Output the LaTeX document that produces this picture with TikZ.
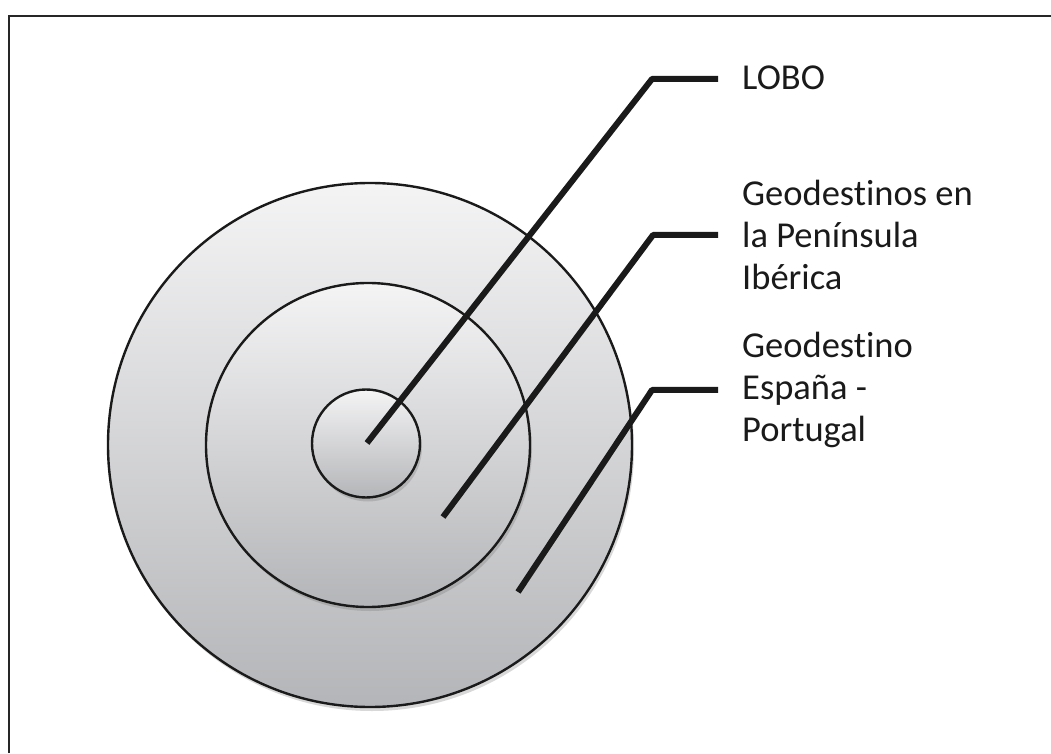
\documentclass[tikz,border=0pt]{standalone}
\usepackage{fontspec}
\setmainfont{Carlito}[RawFeature=-liga]
\usetikzlibrary{shadows}
\definecolor{ink}{HTML}{1A1A1A}
\definecolor{topgray}{HTML}{F4F4F5}
\definecolor{botgray}{HTML}{B4B5B8}
\tikzset{
  ring/.style={draw=ink, line width=2.4pt, top color=topgray, bottom color=botgray,
    drop shadow={shadow xshift=2pt, shadow yshift=-4pt, opacity=0.25, fill=black!60}},
  leader/.style={draw=ink, line width=6pt, line join=round, line cap=butt},
  lbl/.style={anchor=west, inner sep=0pt, align=left, text=ink,
    font=\fontsize{36.5}{42}\selectfont},
}
\begin{document}
\begin{tikzpicture}[x=1pt,y=1pt]
\useasboundingbox (0,0) rectangle (1051,753);
\fill[white] (0,0) rectangle (1051,753);
\draw[line width=2pt, draw=black!85] (9,0) -- (9,737) -- (1051,737);
% circles
\path[ring] (370,308) circle[radius=262];
\path[ring] (368,308) circle[radius=162];
\path[ring] (366,309.5) circle[radius=54];
% coordinates
\coordinate (s1) at (367,310);
\coordinate (c1) at (652,674);
\coordinate (e1) at (718,674);
\coordinate (s2) at (443,236);
\coordinate (c2) at (653,518);
\coordinate (e2) at (718,518);
\coordinate (s3) at (518,161);
\coordinate (c3) at (652,363);
\coordinate (e3) at (718,363);
% labels
\node[lbl] (lobo) at (742,675) {LOBO};
\node[lbl] (iber) at (742,518) {Geodestinos en\\la Península\\Ibérica};
\node[lbl] (espt) at (742,363) {Geodestino\\España -\\Portugal};
% leaders
\draw[leader] (s1) -- (c1) -- (e1);
\draw[leader] (s2) -- (c2) -- (e2);
\draw[leader] (s3) -- (c3) -- (e3);
\end{tikzpicture}
\end{document}
